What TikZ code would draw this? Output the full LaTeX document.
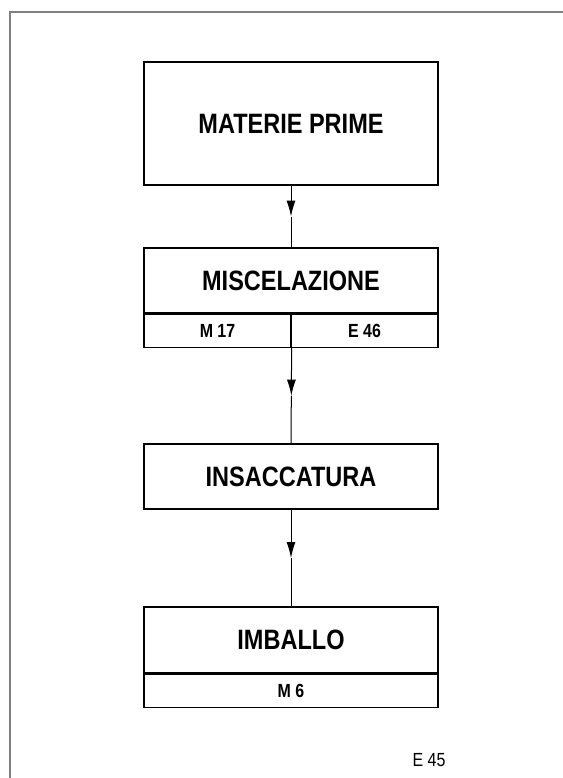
\documentclass[tikz,border=0pt]{standalone}
\usepackage{fontspec}
\setmainfont{Liberation Sans}
\newfontfamily\narrowfont[FakeStretch=0.84]{Liberation Sans}
\usetikzlibrary{arrows.meta,calc,positioning}
\tikzset{
  stage/.style={draw, line width=1.3pt, minimum width=294pt, inner sep=0pt,
    font=\narrowfont\bfseries\fontsize{28}{28}\selectfont},
  cell/.style={draw, line width=1.3pt, minimum height=33pt, inner sep=0pt,
    font=\narrowfont\bfseries\fontsize{19}{19}\selectfont},
  flow/.style={line width=1pt},
  flowtip/.style={line width=1pt, -{Latex[length=16pt,width=9pt]}}
}
\begin{document}
\begin{tikzpicture}[x=1pt,y=-1pt]
\useasboundingbox (0,0) rectangle (562,778);
% sheet frame
\draw[gray, line width=2pt] (10,790) -- (10,12) -- (575,12);
% stages
\node[stage, minimum height=123pt] (mat) at (291,123.5) {MATERIE PRIME};
\node[stage, minimum height=65pt] (misc) at (291,280.5) {MISCELAZIONE};
\node[cell, minimum width=147pt, anchor=north west] (m17) at (misc.south west) {M 17};
\node[cell, minimum width=147pt, anchor=north east] (e46) at (misc.south east) {E 46};
\node[stage, minimum height=65pt] (insac) at (291,476.5) {INSACCATURA};
\node[stage, minimum height=66pt] (imb) at (291,640) {IMBALLO};
\node[cell, minimum width=294pt, below=0pt of imb] (m6) {M 6};
\node[font=\narrowfont\fontsize{19}{19}\selectfont] (code) at (429,760) {E 45};
% connectors, tip half way
\coordinate (a1) at ($(mat.south)!.5!(misc.north)$);
\coordinate (a2) at ($(m17.south east)!.5!(insac.north)$);
\coordinate (a3) at ($(insac.south)!.5!(imb.north)$);
\draw[flowtip] (mat.south) -- (a1);
\draw[flow] (a1) -- (misc.north);
\draw[flowtip] (m17.south east) -- (a2);
\draw[flow] (a2) -- (insac.north);
\draw[flowtip] (insac.south) -- (a3);
\draw[flow] (a3) -- (imb.north);
\end{tikzpicture}
\end{document}
